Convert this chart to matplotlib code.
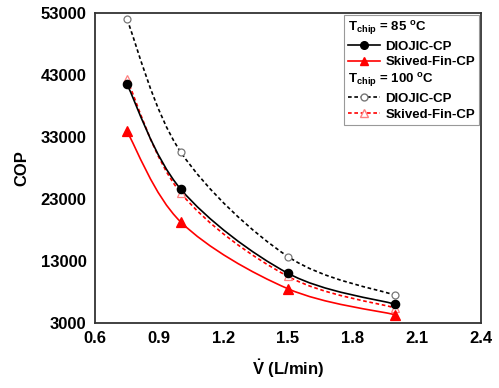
import numpy as np
import matplotlib
matplotlib.use('Agg')
import matplotlib.pyplot as plt
from matplotlib.path import Path
from matplotlib.patches import PathPatch
from matplotlib.lines import Line2D

plt.rcParams['font.family'] = ['Liberation Sans', 'DejaVu Sans']
plt.rcParams['font.weight'] = 'bold'
plt.rcParams['mathtext.fontset'] = 'custom'
plt.rcParams['mathtext.rm'] = 'Liberation Sans:bold'
plt.rcParams['mathtext.bf'] = 'Liberation Sans:bold'
plt.rcParams['mathtext.it'] = 'Liberation Sans:bold'

# data
flow = [0.75, 1.0, 1.5, 2.0]
diojic_85 = [41500, 24600, 11000, 6000]
skived_85 = [33900, 19300, 8500, 4300]
diojic_100 = [52000, 30600, 13700, 7450]
skived_100 = [42300, 24000, 10500, 5400]

xticks = [0.6, 0.9, 1.2, 1.5, 1.8, 2.1, 2.4]
yticks = [3000, 13000, 23000, 33000, 43000, 53000]


def smooth_path(x, y):
    # catmull-rom style bezier segments (like excel's smoothed line)
    x = np.asarray(x, float)
    y = np.asarray(y, float)
    verts = [(x[0], y[0])]
    codes = [Path.MOVETO]
    n = len(x)
    for i in range(n - 1):
        p0 = (x[max(i - 1, 0)], y[max(i - 1, 0)])
        p1 = (x[i], y[i])
        p2 = (x[i + 1], y[i + 1])
        p3 = (x[min(i + 2, n - 1)], y[min(i + 2, n - 1)])
        t = 1 / 6.0
        c1 = (p1[0] + (p2[0] - p0[0]) * t, p1[1] + (p2[1] - p0[1]) * t)
        c2 = (p2[0] - (p3[0] - p1[0]) * t, p2[1] - (p3[1] - p1[1]) * t)
        verts += [c1, c2, p2]
        codes += [Path.CURVE4] * 3
    return Path(verts, codes)


fig, ax = plt.subplots(figsize=(4.99, 3.88), dpi=100)
fig.subplots_adjust(left=0.19, right=0.964, top=0.966, bottom=0.168)

series = [
    (diojic_100, 'black', (0, (2.2, 1.6)), 'o', 'white', '#777777', 5),
    (skived_100, 'red', (0, (2.2, 1.6)), '^', 'white', '#ff8080', 6),
    (diojic_85, 'black', '-', 'o', 'black', 'black', 6),
    (skived_85, 'red', '-', '^', 'red', 'red', 6.5),
]
for ys, col, ls, mk, mfc, mec, ms in series:
    ax.add_patch(PathPatch(smooth_path(flow, ys), facecolor='none',
                           edgecolor=col, linestyle=ls, lw=1.2, zorder=2))
    ax.plot(flow, ys, linestyle='none', marker=mk, markerfacecolor=mfc,
            markeredgecolor=mec, markersize=ms, markeredgewidth=0.9, zorder=3)

ax.set_xlim(0.6, 2.4)
ax.set_ylim(3000, 53000)
ax.set_xticks(xticks)
ax.set_yticks(yticks)
ax.set_xticklabels(['%.1f' % v for v in xticks])
ax.tick_params(length=0, labelsize=12, pad=6)
for s in ax.spines.values():
    s.set_linewidth(1.3)
    s.set_color('#333333')

ax.set_xlabel(r'$\dot{\mathrm{V}}$ (L/min)', fontsize=12, fontweight='bold', labelpad=8)
ax.set_ylabel('COP', fontsize=12, fontweight='bold', labelpad=8)

blank = Line2D([], [], linestyle='none')
handles = [
    blank,
    Line2D([], [], color='black', lw=1.2, marker='o', ms=5.5),
    Line2D([], [], color='red', lw=1.2, marker='^', ms=6),
    blank,
    Line2D([], [], color='black', lw=1.2, ls=(0, (2.2, 1.6)), marker='o',
           mfc='white', mec='#777777', ms=5),
    Line2D([], [], color='red', lw=1.2, ls=(0, (2.2, 1.6)), marker='^',
           mfc='white', mec='#ff8080', ms=6),
]
labels = [r'$\mathrm{T_{chip}}$ = 85 $^{\mathrm{o}}$C', 'DIOJIC-CP', 'Skived-Fin-CP',
          r'$\mathrm{T_{chip}}$ = 100 $^{\mathrm{o}}$C', 'DIOJIC-CP', 'Skived-Fin-CP']
leg = ax.legend(handles, labels, loc='upper right', fontsize=9.5,
                fancybox=False, edgecolor='#999999', framealpha=1,
                handlelength=2.4, handletextpad=0.4, labelspacing=0.25,
                borderpad=0.3, borderaxespad=0.15)
leg.get_frame().set_linewidth(0.8)

# header rows: drop their handle so the text starts at the left
rows = [hp for col in leg._legend_handle_box.get_children() for hp in col.get_children()]
for i in (0, 3):
    rows[i]._children = [rows[i]._children[1]]

fig.savefig('out.png', dpi=100)
